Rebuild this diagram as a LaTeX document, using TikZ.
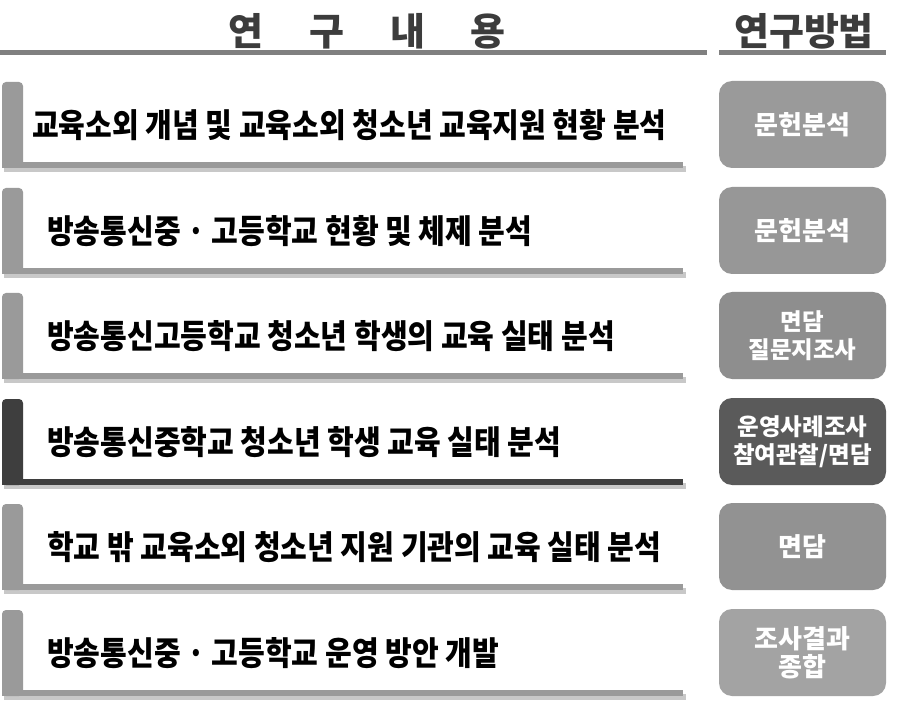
\documentclass[tikz,border=0pt]{standalone}
\usepackage{fontspec}
\setmainfont{Noto Sans CJK KR}
\newfontfamily\rowfont{Noto Sans CJK KR}[FakeStretch=0.88]
\usetikzlibrary{calc}
\definecolor{hdr}{HTML}{3C3C3C}
\definecolor{uline}{HTML}{808080}
\definecolor{barg}{HTML}{9A9A9A}
\definecolor{bard}{HTML}{3E3E3E}
\definecolor{shd}{HTML}{C8C8C8}
\tikzset{
  x=1pt, y=-1pt,
  hdrtext/.style={font=\bfseries\fontsize{38}{40}\selectfont, text=hdr, inner sep=0pt},
  rowtext/.style={font=\rowfont\bfseries\fontsize{33}{36}\selectfont, text=black, anchor=west, inner sep=0pt},
  methbox/.style={rounded corners=13pt, minimum width=167pt, minimum height=87pt, inner sep=0pt,
    text=white, align=center, font=\bfseries\fontsize{26}{28}\selectfont},
  twoline/.style={font=\bfseries\fontsize{23.5}{28}\selectfont},
}
\newcommand{\rowL}[3]{% top, color, name
  \fill[shd] (4,#1+84) rectangle (686,#1+90);
  \fill[#2, rounded corners=4pt] (2,#1) rectangle (23,#1+86);
  \fill[#2] (2,#1+80) rectangle (683,#1+86);
  \coordinate (#3) at (2,#1);
}
\begin{document}
\begin{tikzpicture}
\useasboundingbox (0,0) rectangle (923,708);
\fill[white] (0,0) rectangle (923,708);
% header
\node[hdrtext] (h1) at (367,31) {연\hspace{46pt}구\hspace{46pt}내\hspace{46pt}용};
\node[hdrtext] (h2) at (804,31) {연구방법};
\fill[uline] (0,50) rectangle (707,55);
\fill[uline] (719,50) rectangle (886,55);
% rows
\rowL{82}{barg}{r1}
\rowL{188}{barg}{r2}
\rowL{293}{barg}{r3}
\rowL{399}{bard}{r4}
\rowL{504}{barg}{r5}
\rowL{610}{barg}{r6}
\node[rowtext] (t1) at (32,125) {교육소외 개념 및 교육소외 청소년 교육지원 현황 분석};
\node[rowtext] (t2) at (47,231) {방송통신중 · 고등학교 현황 및 체제 분석};
\node[rowtext] (t3) at (47,336) {방송통신고등학교 청소년 학생의 교육 실태 분석};
\node[rowtext] (t4) at (47,442) {방송통신중학교 청소년 학생 교육 실태 분석};
\node[rowtext] (t5) at (47,547) {학교 밖 교육소외 청소년 지원 기관의 교육 실태 분석};
\node[rowtext] (t6) at (47,653) {방송통신중 · 고등학교 운영 방안 개발};
% method boxes
\node[methbox, fill={rgb,255:red,154;green,154;blue,154}] (m1) at (802.5,124.5) {문헌분석};
\node[methbox, fill={rgb,255:red,151;green,151;blue,151}] (m2) at (802.5,230.5) {문헌분석};
\node[methbox, twoline, fill={rgb,255:red,142;green,142;blue,142}] (m3) at (802.5,335.5) {면담\\질문지조사};
\node[methbox, twoline, fill={rgb,255:red,90;green,90;blue,90}] (m4) at (802.5,441.5) {운영사례조사\\참여관찰/면담};
\node[methbox, fill={rgb,255:red,146;green,146;blue,146}] (m5) at (802.5,546.5) {면담};
\node[methbox, fill={rgb,255:red,163;green,163;blue,163}] (m6) at (802.5,652.5) {조사결과\\종합};
\end{tikzpicture}
\end{document}
